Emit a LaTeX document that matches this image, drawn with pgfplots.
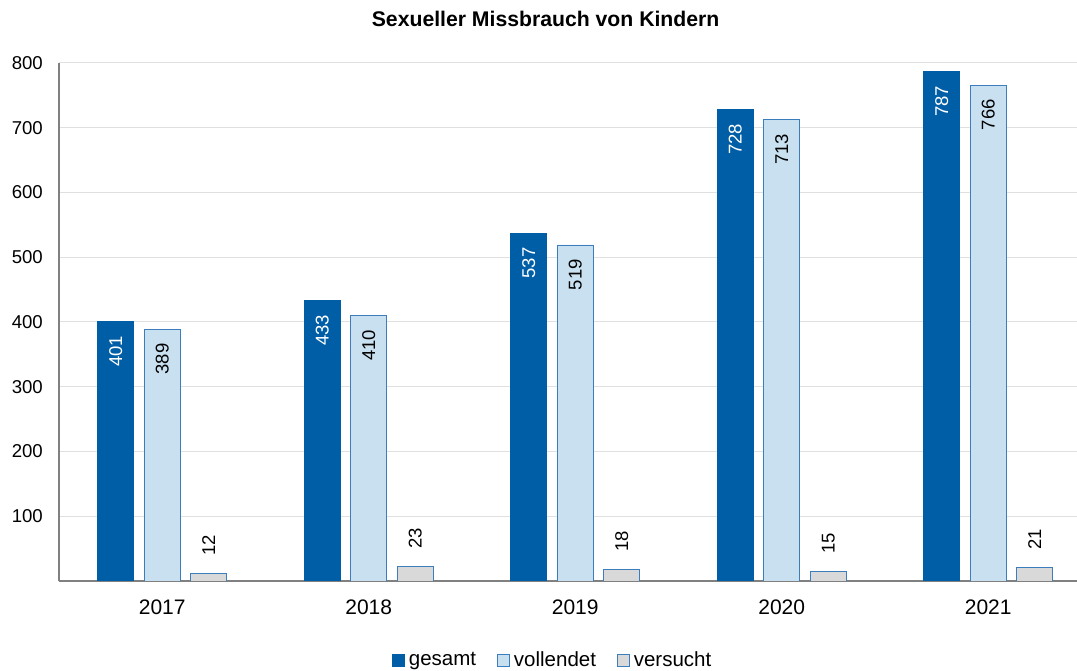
\documentclass[border=0pt]{standalone}
\usepackage{fontspec}
\setmainfont{Liberation Sans}
\usepackage{pgfplots}
\pgfplotsset{compat=1.18}
\definecolor{dblue}{RGB}{0,94,166}
\definecolor{lblue}{RGB}{200,224,240}
\definecolor{bordb}{RGB}{60,125,190}
\definecolor{lgray}{RGB}{217,217,217}
\definecolor{axgray}{RGB}{128,128,128}
\definecolor{gridgray}{RGB}{224,224,224}
\begin{document}
\begin{tikzpicture}
\useasboundingbox (0,0) rectangle (1077pt,671pt);
\begin{axis}[
  at={(59pt,90pt)}, anchor=south west,
  scale only axis, width=1018pt, height=518pt,
  xmin=-0.5, xmax=4.43, ymin=0, ymax=800,
  axis x line*=bottom, axis y line*=left,
  axis line style={axgray, line width=2.2pt},
  ybar=10.5pt, bar width=36pt,
  xtick={0,1,2,3,4}, xticklabels={2017,2018,2019,2020,2021},
  ytick={100,200,...,800},
  major tick length=0pt,
  ymajorgrids, grid style={gridgray, line width=1pt},
  /pgf/number format/assume math mode=true,
  yticklabel style={font=\fontsize{18.6}{20}\selectfont, anchor=east, inner sep=0pt, xshift=-16pt},
  xticklabel style={font=\fontsize{21}{23}\selectfont, anchor=north, inner sep=0pt, yshift=-19pt},
  title={\textbf{Sexueller Missbrauch von Kindern}},
  title style={font=\fontsize{21.2}{23}\selectfont, at={(axis description cs:0.478,1.073)}, anchor=center, inner sep=0pt},
  legend style={at={(axis description cs:0.484,-0.1525)}, anchor=center, draw=none, fill=none,
    legend columns=-1, font=\fontsize{20.5}{22}\selectfont, nodes={inner sep=0pt},
    /tikz/every odd column/.append style={column sep=4pt},
    /tikz/every even column/.append style={column sep=21pt}},
]
\addplot[fill=dblue, draw=dblue, line width=0.8pt,
  nodes near coords,
  nodes near coords style={font=\fontsize{18.5}{20}\selectfont, white, rotate=90, anchor=east, inner xsep=14pt, inner ysep=0pt},
  legend image code/.code={\draw[fill=dblue,draw=dblue,line width=0.8pt] (0pt,-6pt) rectangle (12pt,6pt);}]
  coordinates {(0,401) (1,433) (2,537) (3,728) (4,787)};
\addplot[fill=lblue, draw=bordb, line width=0.8pt,
  nodes near coords,
  nodes near coords style={font=\fontsize{18.5}{20}\selectfont, black, rotate=90, anchor=east, inner xsep=14pt, inner ysep=0pt},
  legend image code/.code={\draw[fill=lblue,draw=bordb,line width=0.8pt] (0pt,-6pt) rectangle (12pt,6pt);}]
  coordinates {(0,389) (1,410) (2,519) (3,713) (4,766)};
\addplot[fill=lgray, draw=bordb, line width=0.8pt,
  nodes near coords,
  nodes near coords style={font=\fontsize{18.5}{20}\selectfont, black, rotate=90, anchor=west, inner xsep=17pt, inner ysep=0pt},
  legend image code/.code={\draw[fill=lgray,draw=bordb,line width=0.8pt] (0pt,-6pt) rectangle (12pt,6pt);}]
  coordinates {(0,12) (1,23) (2,18) (3,15) (4,21)};
\legend{gesamt, vollendet, versucht}
\end{axis}
\end{tikzpicture}
\end{document}
